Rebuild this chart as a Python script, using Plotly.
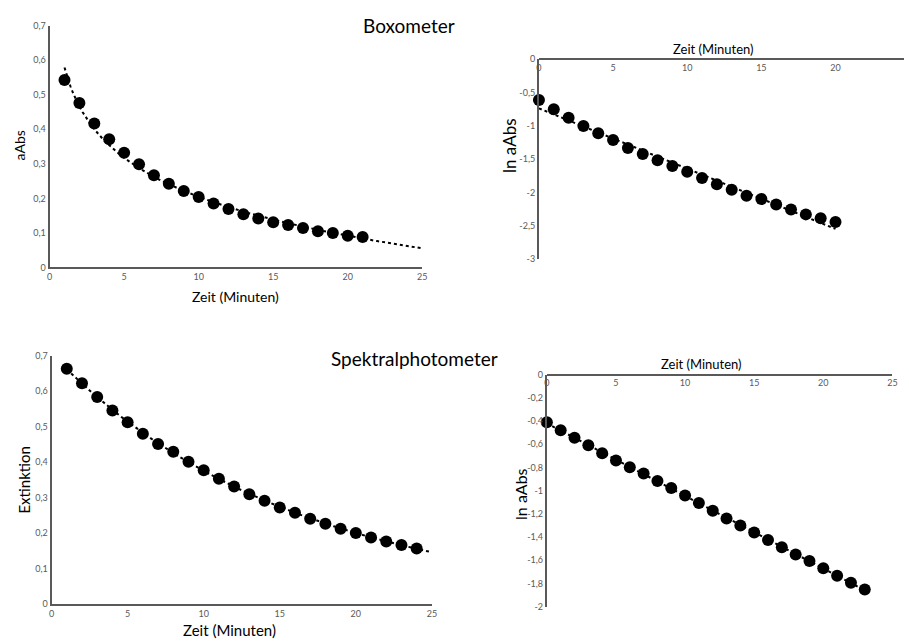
import numpy as np
import plotly.graph_objects as go

# ---------------- data ----------------
box_t = list(range(1, 22))
box_abs = [0.543, 0.476, 0.417, 0.371, 0.332, 0.299, 0.267, 0.242, 0.221, 0.204,
           0.185, 0.169, 0.154, 0.142, 0.131, 0.123, 0.114, 0.105, 0.100, 0.092, 0.088]

box_ln_t = list(range(0, 21))
box_ln = [-0.614, -0.751, -0.879, -1.002, -1.110, -1.213, -1.331, -1.424, -1.517, -1.601,
          -1.689, -1.782, -1.876, -1.959, -2.047, -2.097, -2.180, -2.254, -2.327, -2.386, -2.440]

spk_t = list(range(1, 25))
spk_ext = [0.663, 0.622, 0.583, 0.545, 0.512, 0.480, 0.451, 0.429, 0.401, 0.377,
           0.353, 0.331, 0.309, 0.291, 0.272, 0.257, 0.240, 0.226, 0.212, 0.200,
           0.187, 0.176, 0.166, 0.156]

spk_ln_t = list(range(0, 24))
spk_ln = [-0.412, -0.480, -0.545, -0.610, -0.678, -0.740, -0.799, -0.853, -0.918, -0.977,
          -1.042, -1.107, -1.175, -1.240, -1.302, -1.362, -1.427, -1.489, -1.551, -1.607,
          -1.669, -1.734, -1.794, -1.853]

x_ticks_25 = [0, 5, 10, 15, 20, 25]
x_ticks_20 = [0, 5, 10, 15, 20]
y_ticks_07 = [0, 0.1, 0.2, 0.3, 0.4, 0.5, 0.6, 0.7]
y_ticks_3 = [0, -0.5, -1, -1.5, -2, -2.5, -3]
y_ticks_2 = [0, -0.2, -0.4, -0.6, -0.8, -1, -1.2, -1.4, -1.6, -1.8, -2]

title_top = "Boxometer"
title_bottom = "Spektralphotometer"
x_label = "Zeit (Minuten)"


def lbl(vals):
    return [("%g" % v).replace(".", ",") for v in vals]


# ---------------- trend lines (least squares fits of the data) ----------------
bt = np.array(box_t, float); ba = np.array(box_abs)
b_log, a_log = np.polyfit(np.log(bt), ba, 1)
trend1_x = np.linspace(1, 25, 120)
trend1_y = a_log + b_log * np.log(trend1_x)

m2, c2 = np.polyfit(np.array(box_ln_t, float), np.array(box_ln), 1)
trend2_x = np.array([box_ln_t[0], box_ln_t[-1]], float)
trend2_y = c2 + m2 * trend2_x

m3, c3 = np.polyfit(np.array(spk_t, float), np.log(np.array(spk_ext)), 1)
trend3_x = np.linspace(1, 25, 120)
trend3_y = np.exp(c3 + m3 * trend3_x)

m4, c4 = np.polyfit(np.array(spk_ln_t, float), np.array(spk_ln), 1)
trend4_x = np.array([spk_ln_t[0], spk_ln_t[-1]], float)
trend4_y = c4 + m4 * trend4_x

# ---------------- figure ----------------
W, H = 909, 643
FONT = "Lato"
AX = "#595959"
TICKF = dict(family=FONT, size=9, color="#595959")


def px(x):
    return x / W


def py(y):
    return 1 - y / H


fig = go.Figure()
MK = dict(color="black", size=12)
TL = dict(color="black", width=2, dash="dot")

panels = [
    (trend1_x, trend1_y, box_t, box_abs, "x", "y"),
    (trend2_x, trend2_y, box_ln_t, box_ln, "x2", "y2"),
    (trend3_x, trend3_y, spk_t, spk_ext, "x3", "y3"),
    (trend4_x, trend4_y, spk_ln_t, spk_ln, "x4", "y4"),
]
for tx, ty, dx, dy, xa, ya in panels:
    fig.add_trace(go.Scatter(x=tx, y=ty, mode="lines", line=TL, xaxis=xa, yaxis=ya,
                             hoverinfo="skip", showlegend=False, cliponaxis=False))
    fig.add_trace(go.Scatter(x=dx, y=dy, mode="markers", marker=MK, xaxis=xa, yaxis=ya,
                             showlegend=False, cliponaxis=False))

common = dict(showgrid=False, zeroline=False, showline=True, linecolor=AX, linewidth=2,
              ticks="", tickfont=TICKF, fixedrange=True)

fig.update_layout(
    width=W, height=H, margin=dict(l=0, r=0, t=0, b=0),
    paper_bgcolor="white", plot_bgcolor="white",
    font=dict(family=FONT, color="black"),
    xaxis=dict(domain=[px(47), px(423)], range=[0, 25], anchor="y",
               tickvals=x_ticks_25, ticktext=lbl(x_ticks_25), **common),
    yaxis=dict(domain=[py(266), py(20)], range=[0, 0.7], anchor="x",
               tickvals=y_ticks_07, ticktext=lbl(y_ticks_07), **common),
    xaxis2=dict(domain=[px(540.7), 1.0], range=[0, 24.62], anchor="free",
                position=py(54), side="bottom",
                tickvals=x_ticks_20, ticktext=lbl(x_ticks_20), **common),
    yaxis2=dict(domain=[py(257.7), py(54)], range=[-3, 0], anchor="x2",
                tickvals=y_ticks_3, ticktext=lbl(y_ticks_3), **common),
    xaxis3=dict(domain=[px(49), px(432.7)], range=[0, 25], anchor="y3",
                tickvals=x_ticks_25, ticktext=lbl(x_ticks_25), **common),
    yaxis3=dict(domain=[py(608.3), py(355.7)], range=[0, 0.7], anchor="x3",
                tickvals=y_ticks_07, ticktext=lbl(y_ticks_07), **common),
    xaxis4=dict(domain=[px(548.7), px(897.3)], range=[0, 25], anchor="free",
                position=py(375), side="bottom",
                tickvals=x_ticks_25, ticktext=lbl(x_ticks_25), **common),
    yaxis4=dict(domain=[py(611), py(375)], range=[-2, 0], anchor="x4",
                tickvals=y_ticks_2, ticktext=lbl(y_ticks_2), **common),
)


def ann(text, x, y, size, angle=0):
    fig.add_annotation(text=text, x=px(x), y=py(y), xref="paper", yref="paper",
                       showarrow=False, textangle=angle, xanchor="center", yanchor="middle",
                       font=dict(family=FONT, size=size, color="black"))


ann(title_top, 410, 20, 19)
ann(title_bottom, 415, 359, 19)
ann(x_label, 235, 296, 14)
ann("aAbs", 17, 142, 14, -90)
ann(x_label, 717, 44, 13)
ann("ln aAbs", 511, 142, 17, -90)
ann("Extinktion", 21, 482, 15, -90)
ann(x_label, 229, 635, 15)
ann(x_label, 705, 364, 13)
ann("ln aAbs", 522, 496, 16, -90)

fig.write_html(
    "out.html",
    config={"displayModeBar": False},
    post_script="document.body.style.margin='0';document.body.style.overflow='hidden';",
)
